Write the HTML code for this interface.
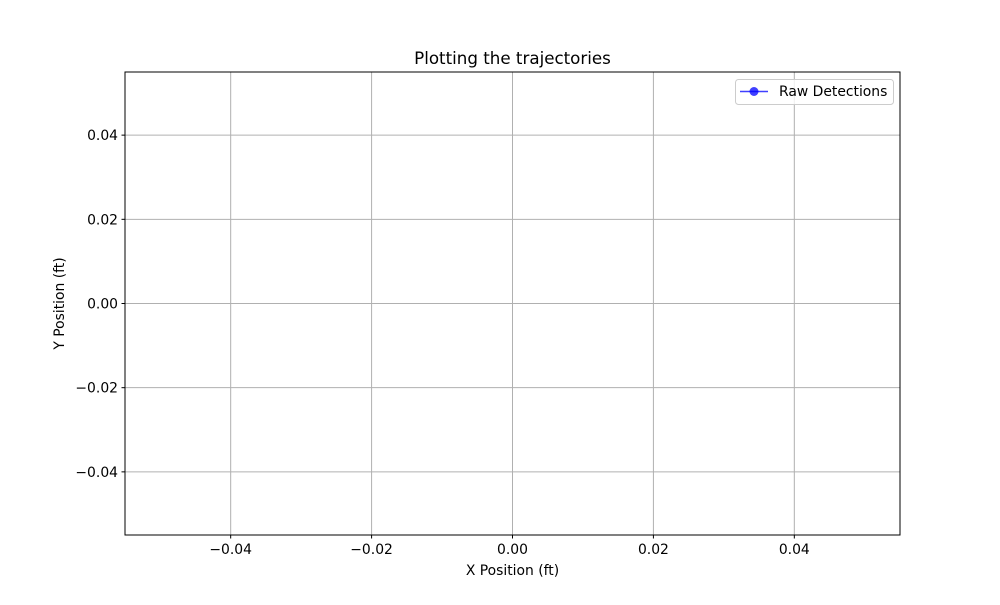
<!DOCTYPE html>
<html><head><meta charset="utf-8"><style>
body{margin:0;background:#fff;}
svg text{font-family:"DejaVu Sans","Liberation Sans",sans-serif;fill:#000;}
</style></head><body>
<svg id="chart" width="1000" height="600" viewBox="0 0 1000 600">
<rect x="0" y="0" width="1000" height="600" fill="#fff"/>
<g id="grid"></g>
<g id="series"></g>
<rect x="125" y="72" width="775" height="463" fill="none" stroke="#000" stroke-width="1"/>
<g id="ticks"></g>
<text x="512.5" y="64" font-size="16.7" text-anchor="middle">Plotting the trajectories</text>
<text x="512.5" y="575" font-size="13.9" text-anchor="middle">X Position (ft)</text>
<text x="64" y="303.5" font-size="13.9" text-anchor="middle" transform="rotate(-90 64 303.5)">Y Position (ft)</text>
<g>
<rect x="735.5" y="79.5" width="158" height="25" rx="3" fill="#fff" fill-opacity="0.8" stroke="#ccc"/>
<line x1="740" y1="91.5" x2="768" y2="91.5" stroke="#0000ff" stroke-opacity="0.75" stroke-width="1.5"/>
<circle cx="754" cy="91.5" r="4.5" fill="#0000ff" fill-opacity="0.75"/>
<text x="779" y="96" font-size="13.9">Raw Detections</text>
</g>
</svg>
<script>
const xTicks=[-0.04,-0.02,0.00,0.02,0.04];
const yTicks=[-0.04,-0.02,0.00,0.02,0.04];
const xTickLabels=["−0.04","−0.02","0.00","0.02","0.04"];
const yTickLabels=["−0.04","−0.02","0.00","0.02","0.04"];
const xValues=[];
const yValues=[];
const NS="http://www.w3.org/2000/svg";
const L=125,R=900,T=72,B=535,xmin=-0.055,xmax=0.055,ymin=-0.055,ymax=0.055;
function sx(v){return L+(v-xmin)/(xmax-xmin)*(R-L);}
function sy(v){return B-(v-ymin)/(ymax-ymin)*(B-T);}
function mk(tag,a,parent){const e=document.createElementNS(NS,tag);for(const k in a)e.setAttribute(k,a[k]);parent.appendChild(e);return e;}
const grid=document.getElementById('grid'),ticks=document.getElementById('ticks'),ser=document.getElementById('series');
xTicks.forEach((v,i)=>{
 const x=sx(v);
 const g=mk('line',{x1:x,y1:T,x2:x,y2:B,stroke:'#b0b0b0','stroke-width':1},grid);
 
 
 const t=mk('line',{x1:x,y1:B,x2:x,y2:B+3.5,stroke:'#000'},ticks);
 
 
 const tx=mk('text',{x:x,y:B+19,'font-size':13.9,'text-anchor':'middle'},ticks);
 tx.textContent=xTickLabels[i];
 
 
});
yTicks.forEach((v,i)=>{
 const y=sy(v);
 const g=mk('line',{x1:L,y1:y,x2:R,y2:y,stroke:'#b0b0b0','stroke-width':1},grid);
 
 
 const t=mk('line',{x1:L-3.5,y1:y,x2:L,y2:y,stroke:'#000'},ticks);
 
 
 const tx=mk('text',{x:L-7,y:y+5,'font-size':13.9,'text-anchor':'end'},ticks);
 tx.textContent=yTickLabels[i];
 
 
});
if(xValues.length){
 const pl=mk('polyline',{points:xValues.map((v,i)=>sx(v)+','+sy(yValues[i])).join(' '),fill:'none',stroke:'#0000ff','stroke-opacity':0.75,'stroke-width':1.5},ser);
 
 
 xValues.forEach((v,i)=>{
  const c=mk('circle',{cx:sx(v),cy:sy(yValues[i]),r:4.5,fill:'#0000ff','fill-opacity':0.75},ser);
  
  
 });
}
</script>
</body></html>
